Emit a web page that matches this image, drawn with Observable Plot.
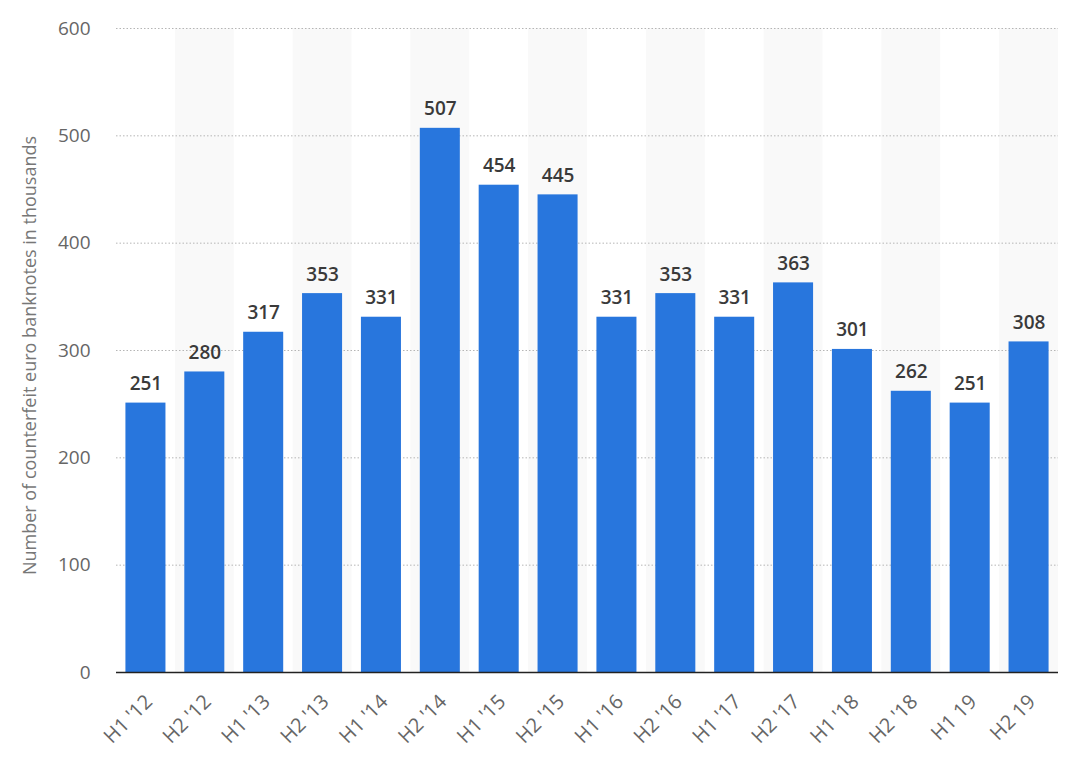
<!DOCTYPE html>
<html>
<head>
<meta charset="utf-8">
<script src="https://cdn.jsdelivr.net/npm/d3@7"></script>
<script src="https://cdn.jsdelivr.net/npm/@observablehq/plot@0.6"></script>
<style>
  html, body { margin: 0; padding: 0; background: #fff; }
  #chart { width: 1081px; height: 772px; }
  svg { font-family: "Open Sans", sans-serif; }
</style>
</head>
<body>
<div id="chart"></div>
<script>
const periods = ["H1 '12","H2 '12","H1 '13","H2 '13","H1 '14","H2 '14","H1 '15","H2 '15","H1 '16","H2 '16","H1 '17","H2 '17","H1 '18","H2 '18","H1 19","H2 19"];
const values = [251, 280, 317, 353, 331, 507, 454, 445, 331, 353, 331, 363, 301, 262, 251, 308];
const yTicks = [0, 100, 200, 300, 400, 500, 600];
const yLabel = "Number of counterfeit euro banknotes in thousands";

const data = periods.map((p, i) => ({period: p, value: values[i], stripe: i % 2 === 1}));
const stripes = data.filter(d => d.stripe);

const width = 1081, height = 772;
const marginLeft = 116, marginRight = 23, marginTop = 28, marginBottom = 100;
const step = (width - marginLeft - marginRight) / periods.length;
const halfGap = step * 0.16;

const chart = Plot.plot({
  width, height,
  marginLeft, marginRight, marginTop, marginBottom,
  style: {fontFamily: "'Open Sans', sans-serif", background: "#fff", fontSize: "19px"},
  x: {domain: periods, paddingInner: 0.32, paddingOuter: 0.16, round: false, label: null},
  y: {domain: [0, 600], label: null},
  marks: [
    Plot.barY(stripes, {x: "period", y1: 0, y2: 600, fill: "#f9f9f9", insetLeft: -halfGap, insetRight: -halfGap}),
    Plot.gridY(yTicks, {stroke: "#b5b5b5", strokeOpacity: 1, strokeDasharray: "1.5,2"}),
    Plot.barY(data, {x: "period", y: "value", fill: "#2876dd"}),
    Plot.ruleY([0], {stroke: "#222", strokeWidth: 1.5}),
    Plot.text(data, {x: "period", y: "value", text: d => String(d.value), dy: -13, lineAnchor: "bottom", fontSize: 19, fontWeight: 600, fill: "#3a3a3a", fontFamily: "'Open Sans', sans-serif"}),
    Plot.axisY({ticks: yTicks, tickSize: 0, tickPadding: 26, fontSize: 19, color: "#666", label: null}),
    Plot.axisX({tickSize: 0, tickRotate: -45, tickPadding: 26, dx: 3, fontSize: 20, color: "#666", label: null}),
    Plot.text([yLabel], {frameAnchor: "left", textAnchor: "middle", rotate: -90, dx: -86, dy: 5, fontSize: 18, fill: "#777", fontFamily: "'Open Sans', sans-serif"})
  ]
});
document.getElementById("chart").appendChild(chart);
</script>
</body>
</html>
